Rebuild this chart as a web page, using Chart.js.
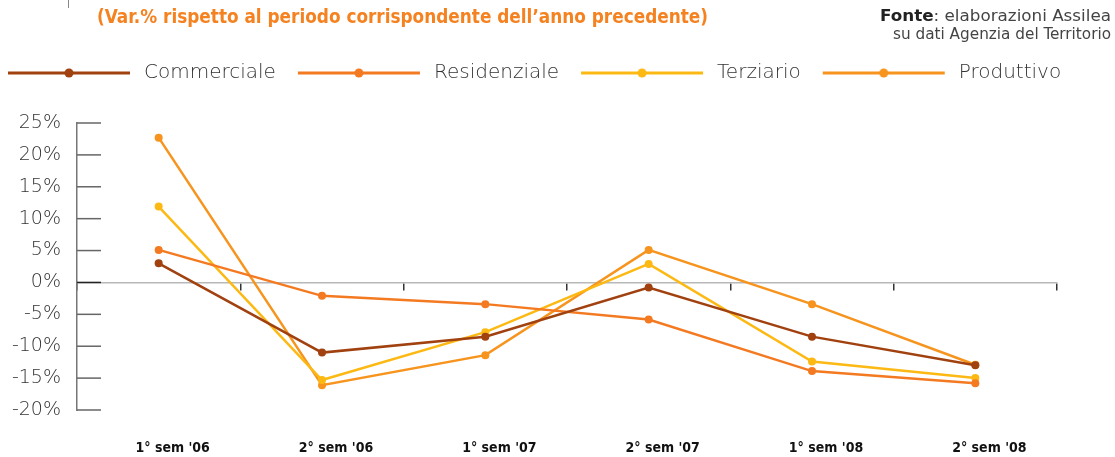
<!DOCTYPE html>
<html>
<head>
<meta charset="utf-8">
<script src="https://cdn.jsdelivr.net/npm/chart.js@4/dist/chart.umd.min.js"></script>
<style>
  html, body { margin: 0; padding: 0; background: #fff; }
</style>
</head>
<body>
<canvas id="chart" width="1115" height="457"></canvas>
<script>
// periods on the x axis
const categories = ["1° sem '06", "2° sem '06", "1° sem '07", "2° sem '07", "1° sem '08", "2° sem '08"];

// % change vs same period of previous year
const commerciale  = [3.0, -11.0, -8.5, -0.8, -8.5, -13.0];
const residenziale = [5.1, -2.1, -3.4, -5.8, -13.9, -15.8];
const terziario    = [11.9, -15.3, -7.8, 2.9, -12.4, -15.0];
const produttivo   = [22.7, -16.1, -11.4, 5.1, -3.4, -12.9];

const seriesNames = ['Commerciale', 'Residenziale', 'Terziario', 'Produttivo'];
const seriesColors = ['#a0410f', '#f47a22', '#fdb913', '#f7941d'];

const yMin = -20, yMax = 25, yStep = 5;

const titleText = '(Var.% rispetto al periodo corrispondente dell\u2019anno precedente)';
const sourceBold = 'Fonte';
const sourceRest = ': elaborazioni Assilea';
const sourceLine2 = 'su dati Agenzia del Territorio';

// legend sample: line with a dot in the middle, some blank room on the left
const SAMPLE_W = 138, SAMPLE_PAD = 12, LINE_W = 122;
function legendSample(color) {
  const c = document.createElement('canvas');
  c.width = SAMPLE_W; c.height = 10;
  const g = c.getContext('2d');
  g.strokeStyle = color; g.lineWidth = 3;
  g.beginPath(); g.moveTo(SAMPLE_PAD, 5); g.lineTo(SAMPLE_PAD + LINE_W, 5); g.stroke();
  g.fillStyle = color;
  g.beginPath(); g.arc(SAMPLE_PAD + LINE_W / 2, 5, 4.5, 0, Math.PI * 2); g.fill();
  return c;
}
const samples = seriesColors.map(legendSample);

// draw text squeezed/stretched to a given width
function fitText(ctx, text, x, y, w) {
  const nat = ctx.measureText(text).width;
  ctx.save();
  ctx.translate(x, y);
  ctx.scale(w / nat, 1);
  ctx.textAlign = 'left';
  ctx.fillText(text, 0, 0);
  ctx.restore();
}

const headerPlugin = {
  id: 'header',
  afterInit(chart) {
    // keep legend on one row and give it a fixed height
    const legend = chart.legend;
    const fit = legend.fit;
    legend.fit = function () {
      const mw = this.maxWidth;
      this.maxWidth = 2000;
      fit.call(this);
      this.maxWidth = mw;
      this.width = mw;
      this.height = 70;
    };
  },
  afterLayout(chart) {
    chart.legend.left = -14;
    chart.legend.right = 1115;
  },
  beforeDatasetsDraw(chart) {
    const { ctx, chartArea, scales: { y } } = chart;
    ctx.save();
    y.ticks.forEach(t => {
      const py = y.getPixelForValue(t.value);
      ctx.strokeStyle = t.value === 0 ? '#222' : '#666';
      ctx.lineWidth = 1.5;
      ctx.beginPath();
      ctx.moveTo(chartArea.left, py);
      ctx.lineTo(chartArea.left + 24, py);
      ctx.stroke();
    });
    ctx.restore();
  },
  afterDraw(chart) {
    const ctx = chart.ctx;
    ctx.save();
    // small mark top-left
    ctx.strokeStyle = '#888'; ctx.lineWidth = 1;
    ctx.beginPath(); ctx.moveTo(68.5, 0); ctx.lineTo(68.5, 8); ctx.stroke();

    ctx.textBaseline = 'middle';
    ctx.fillStyle = '#f58220';
    ctx.font = 'bold 19px "DejaVu Sans Condensed", "DejaVu Sans"';
    fitText(ctx, titleText, 97, 18, 611);

    // source, right aligned
    ctx.font = 'bold 15px "DejaVu Sans Condensed", "DejaVu Sans"';
    const wb = ctx.measureText(sourceBold).width;
    ctx.font = '15px "DejaVu Sans Condensed", "DejaVu Sans"';
    const wr = ctx.measureText(sourceRest).width;
    const s = 231 / (wb + wr);
    const x0 = 1111 - 231;
    ctx.fillStyle = '#222';
    ctx.font = 'bold 15px "DejaVu Sans Condensed", "DejaVu Sans"';
    fitText(ctx, sourceBold, x0, 17, wb * s);
    ctx.fillStyle = '#444';
    ctx.font = '15px "DejaVu Sans Condensed", "DejaVu Sans"';
    fitText(ctx, sourceRest, x0 + wb * s, 17, wr * s);
    fitText(ctx, sourceLine2, 1111 - 218, 35, 218);
    ctx.restore();
  }
};

const datasets = [commerciale, residenziale, terziario, produttivo].map((vals, i) => ({
  label: seriesNames[i],
  data: vals,
  xAxisID: 'x',
  yAxisID: 'y',
  borderColor: seriesColors[i],
  backgroundColor: seriesColors[i],
  pointBackgroundColor: seriesColors[i],
  borderWidth: 2.5,
  pointRadius: 4,
  pointHoverRadius: 4,
  pointBorderWidth: 0,
  tension: 0,
  clip: false
}));

new Chart(document.getElementById('chart'), {
  type: 'line',
  data: { labels: categories, datasets },
  plugins: [headerPlugin],
  options: {
    responsive: false,
    devicePixelRatio: 1,
    animation: false,
    layout: { padding: { top: 53, right: 58, bottom: 0, left: 0 } },
    plugins: {
      tooltip: { enabled: false },
      legend: {
        position: 'top',
        align: 'start',
        labels: {
          usePointStyle: true,
          pointStyleWidth: SAMPLE_W,
          boxHeight: 20,
          padding: 10,
          color: '#333',
          font: { family: '"DejaVu Sans"', size: 20, weight: 200 },
          generateLabels: chart => chart.data.datasets.map((ds, i) => ({
            text: ds.label,
            pointStyle: samples[i],
            fillStyle: ds.borderColor,
            strokeStyle: ds.borderColor,
            lineWidth: 0,
            hidden: false,
            fontColor: '#333',
            datasetIndex: i
          }))
        }
      }
    },
    scales: {
      x: {
        type: 'category',
        position: 'bottom',
        offset: true,
        grid: { display: false, drawTicks: false },
        border: { display: false },
        ticks: {
          color: '#111',
          font: { family: '"DejaVu Sans Condensed", "Liberation Sans"', weight: 'bold', size: 14 },
          padding: 30,
          labelOffset: 14,
          maxRotation: 0,
          autoSkip: false
        },
        afterFit(s) { s.height = 47; }
      },
      x2: {
        type: 'category',
        axis: 'x',
        position: { y: 0 },
        offset: true,
        grid: { display: true, drawOnChartArea: false, tickLength: 7, color: '#333', lineWidth: 1.5, offset: true },
        border: { display: true, color: '#b8b8b8', width: 1.5 },
        ticks: { display: false }
      },
      y: {
        min: yMin,
        max: yMax,
        ticks: {
          stepSize: yStep,
          callback: v => v + '%',
          color: '#333',
          font: { family: '"DejaVu Sans"', size: 19, weight: 200 },
          padding: 16
        },
        grid: { display: true, drawOnChartArea: false, drawTicks: false },
        border: { display: true, color: '#777', width: 1.5 },
        afterFit(s) { s.width = 77; }
      }
    }
  }
});
</script>
</body>
</html>
